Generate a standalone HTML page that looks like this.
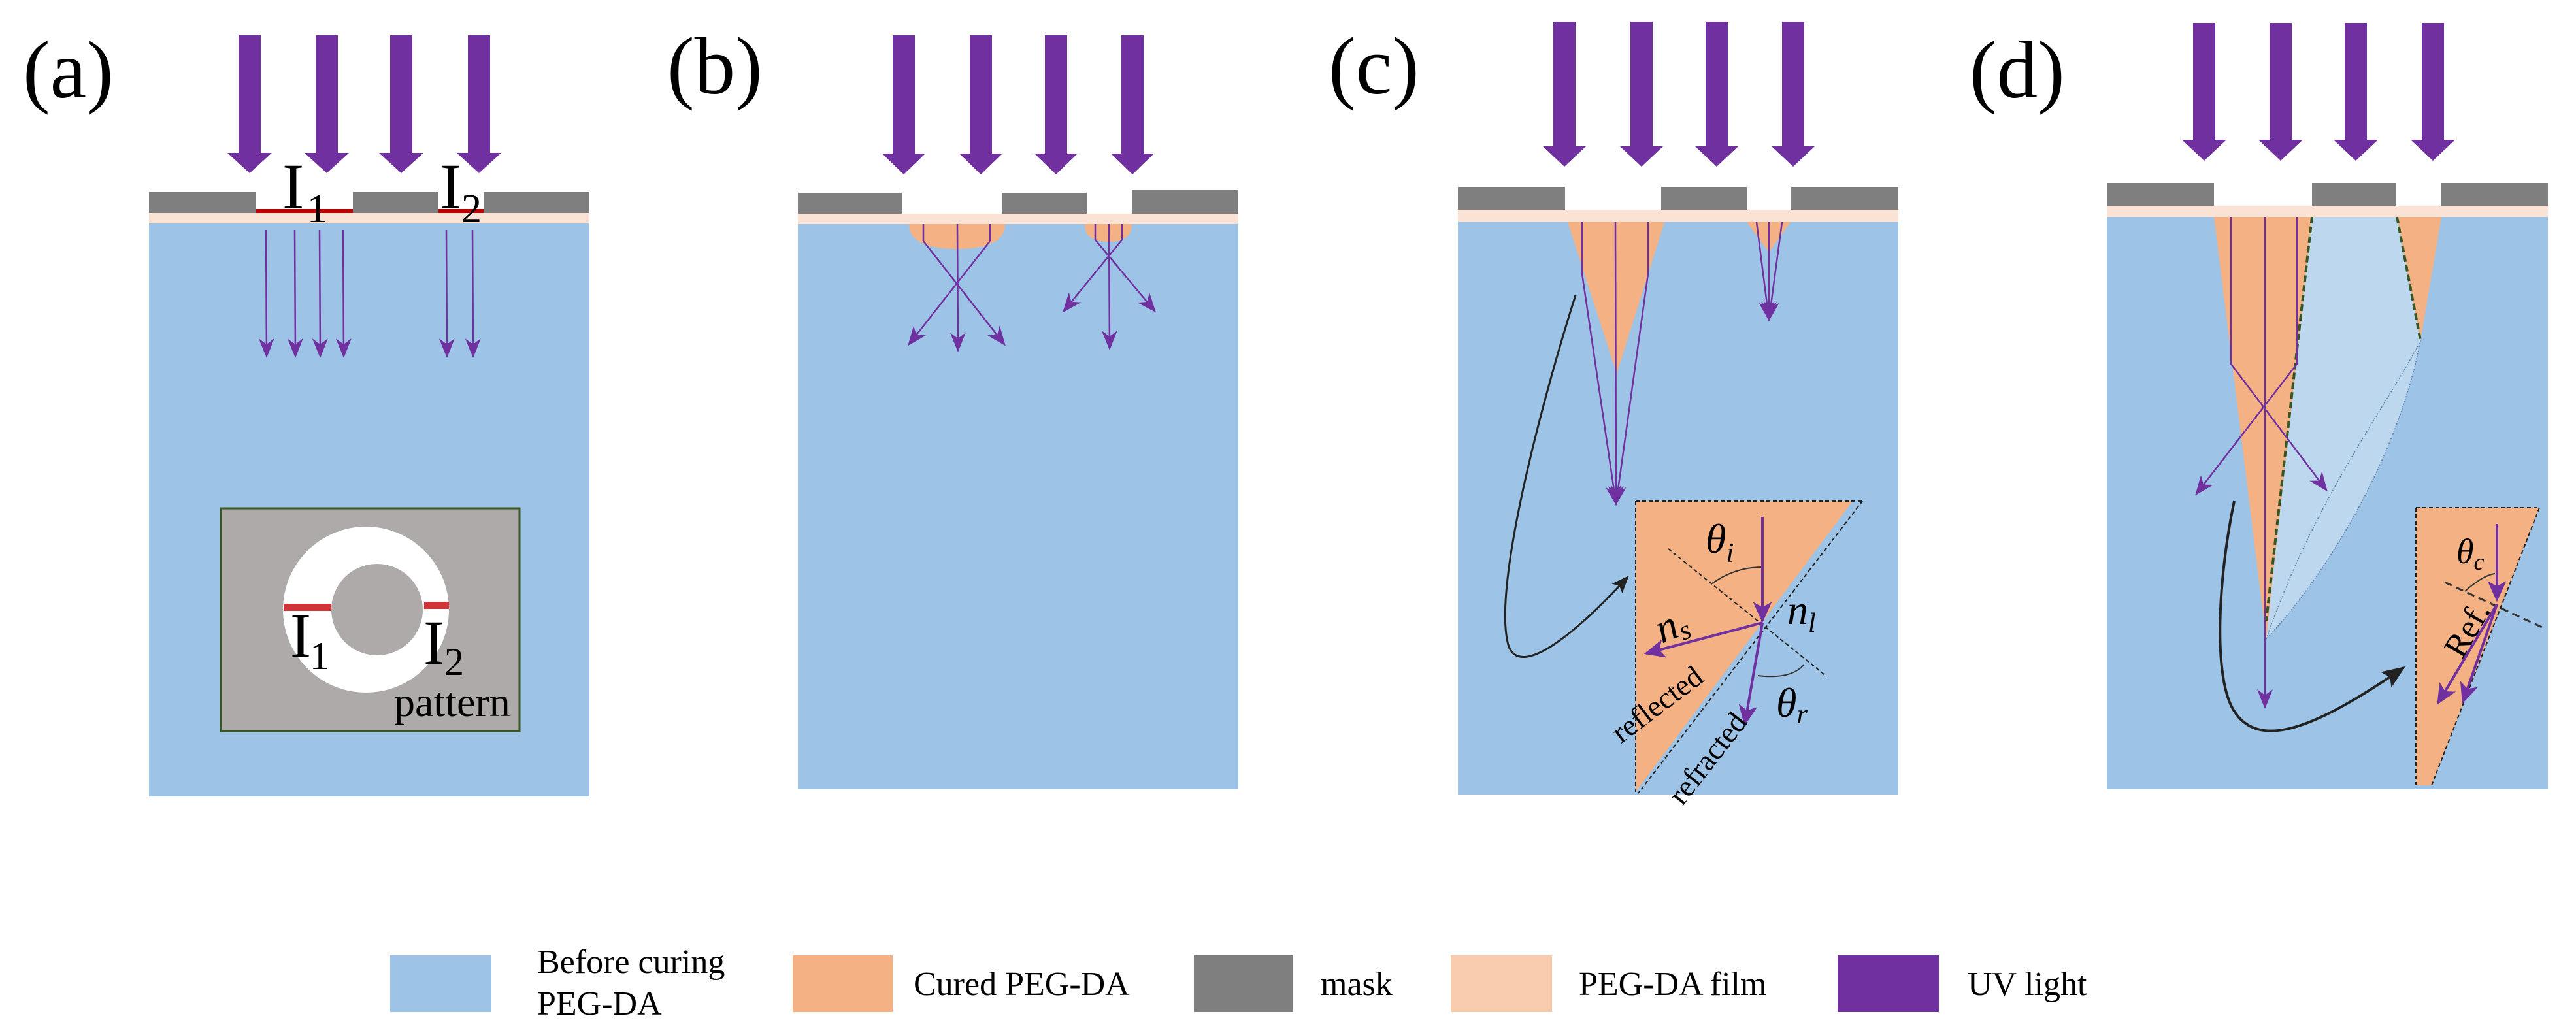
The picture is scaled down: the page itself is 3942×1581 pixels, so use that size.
<!DOCTYPE html>
<html><head><meta charset="utf-8"><style>
html,body{margin:0;padding:0;background:#fff;}
svg{display:block;}
text{font-family:"Liberation Serif","DejaVu Serif",serif;fill:#000;}
</style></head><body>
<svg width="3942" height="1581" viewBox="0 0 3942 1581" xmlns="http://www.w3.org/2000/svg" font-family="Liberation Serif, serif">
<defs>
<marker id="ah" viewBox="0 0 20 20" refX="18" refY="10" markerWidth="12" markerHeight="12" markerUnits="strokeWidth" orient="auto">
<path d="M0,2 L20,10 L0,18 L6,10 Z" fill="#7030a0"/>
</marker>
<marker id="ahb" viewBox="0 0 20 20" refX="18" refY="10" markerWidth="8" markerHeight="8" markerUnits="strokeWidth" orient="auto">
<path d="M0,1 L20,10 L0,19 L5,10 Z" fill="#7030a0"/>
</marker>
<marker id="ahk" viewBox="0 0 20 20" refX="18" refY="10" markerWidth="9" markerHeight="9" markerUnits="strokeWidth" orient="auto">
<path d="M0,2 L20,10 L0,18 L4,10 Z" fill="#222"/>
</marker>
</defs>
<g font-family="Liberation Serif, serif">

<!-- ============ (a) ============ -->
<text x="35" y="149" font-size="125">(a)</text>
<g fill="#7030a0">
<polygon points="365,54 399,54 399,234 416,234 382,265 348,234 365,234"/>
<polygon points="483,54 517,54 517,234 534,234 500,265 466,234 483,234"/>
<polygon points="597,54 631,54 631,234 648,234 614,265 580,234 597,234"/>
<polygon points="716,54 750,54 750,234 767,234 733,265 699,234 716,234"/>
</g>
<rect x="228" y="342" width="674" height="877" fill="#9dc3e6"/>
<rect x="228" y="326" width="674" height="16" fill="#fae3d5"/>
<rect x="228" y="294" width="164" height="32" fill="#7f7f7f"/>
<rect x="540" y="294" width="131" height="32" fill="#7f7f7f"/>
<rect x="740" y="294" width="162" height="32" fill="#7f7f7f"/>
<rect x="392" y="320" width="148" height="6" fill="#c00000"/>
<rect x="671" y="320" width="69" height="6" fill="#c00000"/>
<text x="432" y="319" font-size="100">I</text><text x="470" y="340" font-size="62">1</text>
<text x="673" y="319" font-size="100">I</text><text x="706" y="340" font-size="62">2</text>
<g stroke="#7030a0" stroke-width="2.5" fill="none" marker-end="url(#ah)">
<line x1="407" y1="352" x2="408" y2="545"/>
<line x1="451" y1="352" x2="452" y2="545"/>
<line x1="489" y1="352" x2="490" y2="545"/>
<line x1="525" y1="352" x2="526" y2="545"/>
<line x1="683" y1="352" x2="684" y2="545"/>
<line x1="723" y1="352" x2="724" y2="545"/>
</g>
<rect x="338" y="778" width="457" height="341" fill="#aeaaa9" stroke="#375623" stroke-width="3"/>
<circle cx="560" cy="933" r="127" fill="#fff"/>
<circle cx="577" cy="933" r="70" fill="#aeaaa9"/>
<rect x="434" y="924" width="73" height="11" fill="#d13438"/>
<rect x="649" y="921" width="38" height="11" fill="#d13438"/>
<text x="444" y="1005" font-size="96">I</text><text x="474" y="1024" font-size="60">1</text>
<text x="648" y="1016" font-size="96">I</text><text x="680" y="1033" font-size="60">2</text>
<text x="603" y="1096" font-size="64">pattern</text>

<!-- ============ (b) ============ -->
<text x="1021" y="143" font-size="125">(b)</text>
<g fill="#7030a0">
<polygon points="1366,54 1400,54 1400,235 1416,235 1383,267 1350,235 1366,235"/>
<polygon points="1484,54 1518,54 1518,235 1534,235 1501,267 1468,235 1484,235"/>
<polygon points="1599,54 1633,54 1633,235 1649,235 1616,267 1583,235 1599,235"/>
<polygon points="1716,54 1750,54 1750,235 1766,235 1733,267 1700,235 1716,235"/>
</g>
<rect x="1221" y="343" width="674" height="865" fill="#9dc3e6"/>
<rect x="1221" y="327" width="674" height="16" fill="#fae3d5"/>
<rect x="1221" y="295" width="159" height="32" fill="#7f7f7f"/>
<rect x="1533" y="295" width="130" height="32" fill="#7f7f7f"/>
<rect x="1732" y="291" width="163" height="36" fill="#7f7f7f"/>
<path d="M1391,343 L1538,343 Q1538,381 1465,381 Q1391,381 1391,343 Z" fill="#f4b183"/>
<path d="M1660,343 L1732,343 Q1732,370 1696,370 Q1660,370 1660,343 Z" fill="#f4b183"/>
<g stroke="#7030a0" stroke-width="2.5" fill="none">
<polyline points="1413,343 1413,369"/><polyline points="1515,343 1515,369"/>
<polyline points="1676,343 1676,367"/><polyline points="1717,343 1717,367"/>
</g>
<g stroke="#7030a0" stroke-width="2.5" fill="none" marker-end="url(#ah)">
<line x1="1413" y1="369" x2="1537" y2="527"/>
<line x1="1515" y1="369" x2="1391" y2="527"/>
<line x1="1465" y1="343" x2="1466" y2="536"/>
<line x1="1676" y1="367" x2="1767" y2="476"/>
<line x1="1717" y1="367" x2="1628" y2="476"/>
<line x1="1697" y1="343" x2="1698" y2="533"/>
</g>

<!-- ============ (c) ============ -->
<text x="2033" y="143" font-size="125">(c)</text>
<g fill="#7030a0">
<polygon points="2377,33 2411,33 2411,224 2427,224 2394,255 2361,224 2377,224"/>
<polygon points="2495,33 2529,33 2529,224 2545,224 2512,255 2479,224 2495,224"/>
<polygon points="2610,33 2644,33 2644,224 2660,224 2627,255 2594,224 2610,224"/>
<polygon points="2727,33 2761,33 2761,224 2777,224 2744,255 2711,224 2727,224"/>
</g>
<rect x="2231" y="340" width="674" height="876" fill="#9dc3e6"/>
<rect x="2231" y="321" width="674" height="19" fill="#fae3d5"/>
<rect x="2231" y="286" width="164" height="35" fill="#7f7f7f"/>
<rect x="2542" y="286" width="131" height="35" fill="#7f7f7f"/>
<rect x="2741" y="286" width="164" height="35" fill="#7f7f7f"/>
<polygon points="2399,340 2547,340 2474,572" fill="#f4b183"/>
<polygon points="2673,340 2740,340 2707,386" fill="#f4b183"/>
<g stroke="#7030a0" stroke-width="2.5" fill="none">
<polyline points="2421,340 2421,419 2473,771" marker-end="url(#ah)"/>
<polyline points="2472,340 2473,771" marker-end="url(#ah)"/>
<polyline points="2522,340 2522,419 2473,771" marker-end="url(#ah)"/>
<polyline points="2688,340 2707,489" marker-end="url(#ah)"/>
<polyline points="2707,340 2707,489" marker-end="url(#ah)"/>
<polyline points="2727,340 2707,489" marker-end="url(#ah)"/>
</g>
<path d="M2411,452 C2370,580 2280,900 2309,990 C2330,1040 2420,960 2491,883" stroke="#222" stroke-width="3" fill="none" marker-end="url(#ahk)"/>
<polygon points="2503,767 2835,767 2503,1212" fill="#f4b183"/>
<g stroke="#222" stroke-width="2" stroke-dasharray="6,4" fill="none">
<line x1="2503" y1="767" x2="2850" y2="767"/>
<line x1="2503" y1="767" x2="2503" y2="1212"/>
<line x1="2850" y1="767" x2="2507" y2="1214"/>
<line x1="2553" y1="840" x2="2795" y2="1035"/>
</g>
<path d="M2620,893 Q2655,868 2697,868" stroke="#333" stroke-width="2" fill="none"/>
<path d="M2690,1034 Q2740,1040 2760,1018" stroke="#333" stroke-width="2" fill="none"/>
<g stroke="#7030a0" stroke-width="4" fill="none" marker-end="url(#ahb)">
<line x1="2697" y1="791" x2="2697" y2="950"/>
<line x1="2697" y1="953" x2="2519" y2="1000"/>
<line x1="2697" y1="953" x2="2670" y2="1108"/>
</g>
<text x="2610" y="846" font-size="64" font-style="italic">θ<tspan font-size="42" dy="14">i</tspan></text>
<text x="2735" y="955" font-size="64" font-style="italic">n<tspan font-size="42" dy="12">l</tspan></text>
<text x="2718" y="1097" font-size="64" font-style="italic">θ<tspan font-size="42" dy="10">r</tspan></text>
<text transform="translate(2543,985) rotate(-22)" font-size="64" font-style="italic">n<tspan font-size="42" dy="8">s</tspan></text>
<text transform="translate(2545,1090) rotate(-37)" font-size="46" text-anchor="middle">reflected</text>
<text transform="translate(2625,1170) rotate(-52)" font-size="46" text-anchor="middle">refracted</text>

<!-- ============ (d) ============ -->
<text x="3014" y="149" font-size="125">(d)</text>
<g fill="#7030a0">
<polygon points="3356,35 3390,35 3390,214 3407,214 3373,246 3339,214 3356,214"/>
<polygon points="3473,35 3507,35 3507,214 3524,214 3490,246 3456,214 3473,214"/>
<polygon points="3588,35 3622,35 3622,214 3639,214 3605,246 3571,214 3588,214"/>
<polygon points="3706,35 3740,35 3740,214 3757,214 3723,246 3689,214 3706,214"/>
</g>
<rect x="3224" y="332" width="675" height="876" fill="#9dc3e6"/>
<rect x="3224" y="315" width="675" height="17" fill="#fae3d5"/>
<rect x="3224" y="280" width="164" height="35" fill="#7f7f7f"/>
<rect x="3538" y="280" width="128" height="35" fill="#7f7f7f"/>
<rect x="3735" y="280" width="164" height="35" fill="#7f7f7f"/>
<polygon points="3388,332 3538,332 3468,978" fill="#f4b183"/>
<polygon points="3668,332 3736,332 3704,521" fill="#f4b183"/>
<path d="M3538,332 L3668,332 L3704,521 C3670,700 3560,880 3468,978 Z" fill="#bdd7ee"/>
<path d="M3704,521 C3670,700 3560,880 3468,978" stroke="#5b7fa8" stroke-width="1.5" stroke-dasharray="2,2" fill="none"/>
<path d="M3702,526 C3640,640 3540,770 3468,978" stroke="#5b7fa8" stroke-width="1.5" stroke-dasharray="2,2" fill="none"/>
<g stroke="#375623" stroke-width="4" stroke-dasharray="10,5" fill="none">
<line x1="3538" y1="332" x2="3468" y2="950"/>
<line x1="3668" y1="332" x2="3704" y2="521"/>
</g>
<g stroke="#7030a0" stroke-width="2.5" fill="none">
<polyline points="3414,332 3414,557 3560,750" marker-end="url(#ah)"/>
<polyline points="3515,332 3515,557 3361,756" marker-end="url(#ah)"/>
<polyline points="3466,332 3466,1082" marker-end="url(#ah)"/>
</g>
<path d="M3419,767 C3395,880 3385,1040 3420,1090 C3460,1150 3550,1110 3678,1022" stroke="#222" stroke-width="4" fill="none" marker-end="url(#ahk)"/>
<polygon points="3697,777 3886,777 3721,1202 3697,1202" fill="#f4b183"/>
<g stroke="#222" stroke-width="2" stroke-dasharray="6,4" fill="none">
<line x1="3697" y1="777" x2="3886" y2="777"/>
<line x1="3697" y1="777" x2="3697" y2="1202"/>
<line x1="3886" y1="777" x2="3721" y2="1202"/>
</g>
<line x1="3741" y1="891" x2="3890" y2="960" stroke="#333" stroke-width="3" stroke-dasharray="12,7"/>
<path d="M3772,905 Q3800,880 3818,878" stroke="#333" stroke-width="2" fill="none"/>
<g stroke="#7030a0" stroke-width="4" fill="none" marker-end="url(#ahb)">
<line x1="3821" y1="802" x2="3821" y2="918"/>
<line x1="3821" y1="925" x2="3731" y2="1076"/>
<line x1="3821" y1="925" x2="3769" y2="1074"/>
</g>
<text x="3759" y="862" font-size="54" font-style="italic">θ<tspan font-size="36" dy="10">c</tspan></text>
<text transform="translate(3768,1010) rotate(-60)" font-size="52">Ref.</text>

<!-- ============ legend ============ -->
<rect x="597" y="1462" width="155" height="87" fill="#9dc3e6"/>
<text x="822" y="1489" font-size="52">Before curing</text>
<text x="822" y="1553" font-size="52">PEG-DA</text>
<rect x="1213" y="1462" width="153" height="87" fill="#f4b183"/>
<text x="1398" y="1523" font-size="52">Cured  PEG-DA</text>
<rect x="1827" y="1462" width="152" height="87" fill="#7f7f7f"/>
<text x="2021" y="1523" font-size="52">mask</text>
<rect x="2220" y="1462" width="155" height="87" fill="#f8cbad"/>
<text x="2416" y="1523" font-size="52">PEG-DA film</text>
<rect x="2812" y="1462" width="155" height="87" fill="#7030a0"/>
<text x="3011" y="1523" font-size="52">UV  light</text>
</g>
</svg>
</body></html>
